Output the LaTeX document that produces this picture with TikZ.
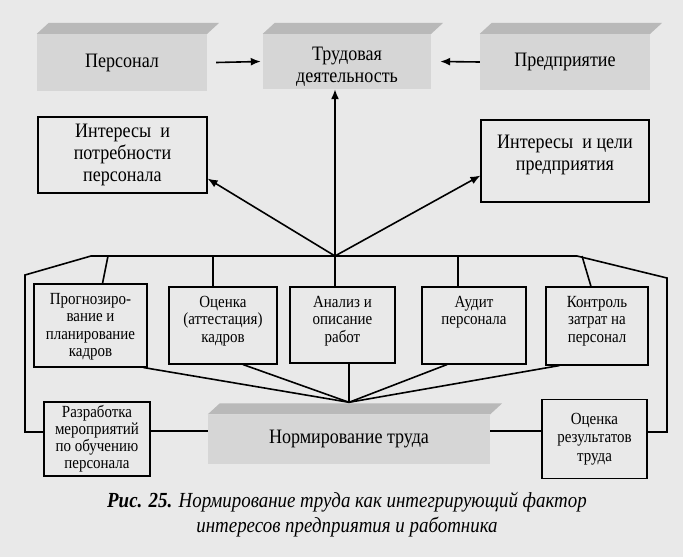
\documentclass[tikz,border=0pt]{standalone}
\usepackage{fontspec}
\setmainfont{Liberation Serif}[FakeStretch=0.88]
\usepackage{tikz}
\usetikzlibrary{arrows.meta}

\begin{document}
\begin{tikzpicture}[x=1pt,y=-1pt]
\tikzset{>={Latex[width=8pt,length=10pt]}}
\tikzstyle{brick} =[fill=gray!32, inner sep=0pt, align=center, font=\fontsize{20.5}{21.7}\selectfont]
\tikzstyle{roof} =[fill=gray!55]
\tikzstyle{frame} =[draw, line width=1.1pt, inner sep=0pt, align=center, font=\fontsize{20.5}{21.7}\selectfont]
\tikzstyle{unit} =[draw, line width=1.1pt, inner xsep=2pt, inner ysep=9pt, font=\fontsize{17}{17.5}\selectfont]
\tikzstyle{link} =[line width=1.6pt]
\tikzstyle{bar} =[line width=2.4pt]

% paper
\fill[gray!17] (0,0) rectangle (683,557);

% top row
\node[brick, minimum width=170pt, minimum height=57pt] (pers) at (122,62.5) {Персонал};
\node[brick, minimum width=168pt, minimum height=55pt] (trud) at (347,61.5) {\parbox[c][55pt][c]{168pt}{\centering\vspace*{10pt}Трудовая\\деятельность}};
\node[brick, minimum width=170pt, minimum height=56pt] (pred) at (565,62) {Предприятие};

\node[frame, minimum width=169pt, minimum height=76pt] (intp) at (122.5,155) {Интересы \ и\\потребности\\персонала};
\node[frame, inner xsep=2pt, inner ysep=15pt] (intc) at (565,161) {\parbox[c][52pt][t]{164pt}{\centering Интересы \ и цели\\предприятия}};

% second row
\node[unit] (prog) at (90.5,325.5) {\parbox[c][65pt][t]{109pt}{\centering Прогнозиро-\\вание и\\планирование\\кадров}};
\node[unit] (ocen) at (223,325.5) {\parbox[c][59pt][t]{104pt}{\centering Оценка\\(аттестация)\\кадров}};
\node[unit] (anal) at (342.5,325) {\parbox[c][58pt][t]{101pt}{\centering Анализ и\\описание\\работ}};
\node[unit] (audit) at (474,325.5) {\parbox[c][59pt][t]{100pt}{\centering Аудит\\персонала}};
\node[unit] (kontr) at (597,326) {\parbox[c][60pt][t]{98pt}{\centering Контроль\\затрат на\\персонал}};

% bottom row
\node[brick, minimum width=282pt, minimum height=49pt] (norm) at (349,439) {Нормирование труда};
\node[frame, font=\fontsize{17}{17}\selectfont, minimum width=106pt, minimum height=74pt] (razr) at (97,439) {Разработка\\мероприятий\\по обучению\\персонала};
\node[frame, font=\fontsize{17}{18.5}\selectfont, minimum width=105pt, minimum height=79pt] (ocres) at (594.5,439) {Оценка\\результатов\\труда};

\foreach \n in {pers,trud,pred,norm}
  \fill[roof] (\n.north west) -- ++(12,-11) -- ([shift={(12pt,11pt)}]\n.north east) -- (\n.north east) -- cycle;

\node[font=\fontsize{21.5}{25}\selectfont\itshape, align=center] (cap) at (347,515) {\textbf{Рис. 25.} Нормирование труда как интегрирующий фактор\\интересов предприятия и работника};

% hubs on the bar
\coordinate (barl) at (91,256);
\coordinate (barr) at (577,256);
\coordinate (hub) at (335,256);
\coordinate (low) at ([yshift=12pt]norm.north);
\foreach \p/\x in {b1/108,b2/213,b4/458,b5/582}
  \coordinate (\p) at (\x,256);

% arrows up
\draw[->,link] ([xshift=9pt]pers.east) -- ([xshift=-2pt]trud.west);
\draw[->,link] (pred.west) -- ([xshift=9pt]trud.east);
\draw[->,link] (hub) -- (hub |- trud.south);
\draw[->,link] (hub) -- ([yshift=15pt]intp.south east);
\draw[->,link] (hub) -- ([yshift=27pt]intc.south west);

% bar and ticks
\draw[bar] (barl) -- (barr);
\draw[link] (b1) -- ([xshift=12pt]prog.north);
\draw[link] (b2) -- ([xshift=-10pt]ocen.north);
\draw[link] (hub) -- (hub |- anal.north);
\draw[link] (b4) -- ([xshift=-16pt]audit.north);
\draw[link] (b5) -- ([xshift=-6pt]kontr.north);
\draw[link] (barl) -- (25,275) |- ([yshift=7pt]razr.west);
\draw[link] (barr) -- (667,278) |- ([yshift=7pt]ocres.east);

% fan down
\draw[link] ([xshift=-4pt]prog.south east) -- (low);
\draw[link] ([xshift=20pt]ocen.south) -- (low);
\draw[link] (low |- anal.south) -- (low);
\draw[link] ([xshift=-27pt]audit.south) -- (low);
\draw[link] ([xshift=14pt]kontr.south west) -- (low);
\draw[link] ([yshift=8pt]razr.east) -- ([yshift=8pt]norm.west);
\draw[link] ([yshift=8pt]norm.east) -- ([yshift=8pt]ocres.west);
\end{tikzpicture}
\end{document}
